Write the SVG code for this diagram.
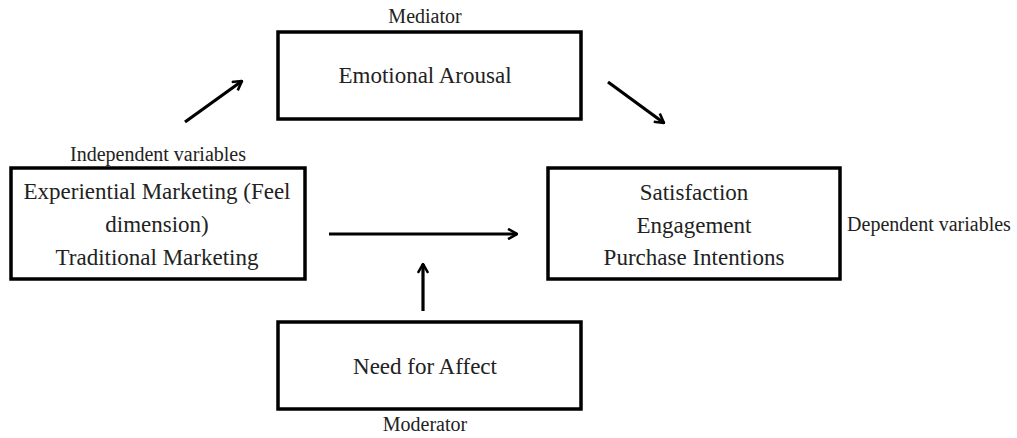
<svg xmlns="http://www.w3.org/2000/svg" width="1017" height="438" viewBox="0 0 1017 438">
<style>
.box{fill:#fff;stroke:#000;stroke-width:3.5}
.t{font-family:"Liberation Serif","Times New Roman",serif;font-size:23px;fill:#222;text-anchor:middle}
.l{font-family:"Liberation Serif","Times New Roman",serif;font-size:20px;fill:#222;text-anchor:middle}
.c{stroke:#000;stroke-width:3.2;fill:none;marker-end:url(#ah)}
</style>
<defs>
<marker id="ah" viewBox="0 0 10 10" refX="9" refY="5" markerWidth="4" markerHeight="4" orient="auto" markerUnits="strokeWidth">
<path d="M2,1 L9,5 L2,9" fill="none" stroke="#000" stroke-width="2"/>
</marker>
</defs>
<rect width="1017" height="438" fill="#fff"/>
<g id="mediator">
<rect class="box" x="278" y="32" width="303" height="87"/>
<text class="l" x="425" y="23">Mediator</text>
<text class="t" x="425" y="83">Emotional Arousal</text>
</g>
<g id="independent">
<rect class="box" x="11" y="168" width="294" height="111" stroke-width="4"/>
<text class="l" x="158" y="161">Independent variables</text>
<text class="t" x="157" y="199">Experiential Marketing (Feel</text>
<text class="t" x="157" y="232">dimension)</text>
<text class="t" x="157" y="265">Traditional Marketing</text>
</g>
<g id="dependent">
<rect class="box" x="548" y="168" width="292" height="111"/>
<text class="t" x="694" y="200">Satisfaction</text>
<text class="t" x="694" y="233">Engagement</text>
<text class="t" x="694" y="265">Purchase Intentions</text>
<text class="l" x="929" y="231">Dependent variables</text>
</g>
<g id="moderator">
<rect class="box" x="278" y="322" width="303" height="87"/>
<text class="t" x="425" y="374">Need for Affect</text>
<text class="l" x="425" y="431">Moderator</text>
</g>
<g id="connectors">
<line class="c" x1="185" y1="122" x2="242" y2="81"/>
<line class="c" x1="608" y1="82" x2="664" y2="123"/>
<line class="c" x1="329" y1="234" x2="517" y2="234"/>
<line class="c" x1="423" y1="311" x2="423" y2="264"/>
</g>
</svg>
